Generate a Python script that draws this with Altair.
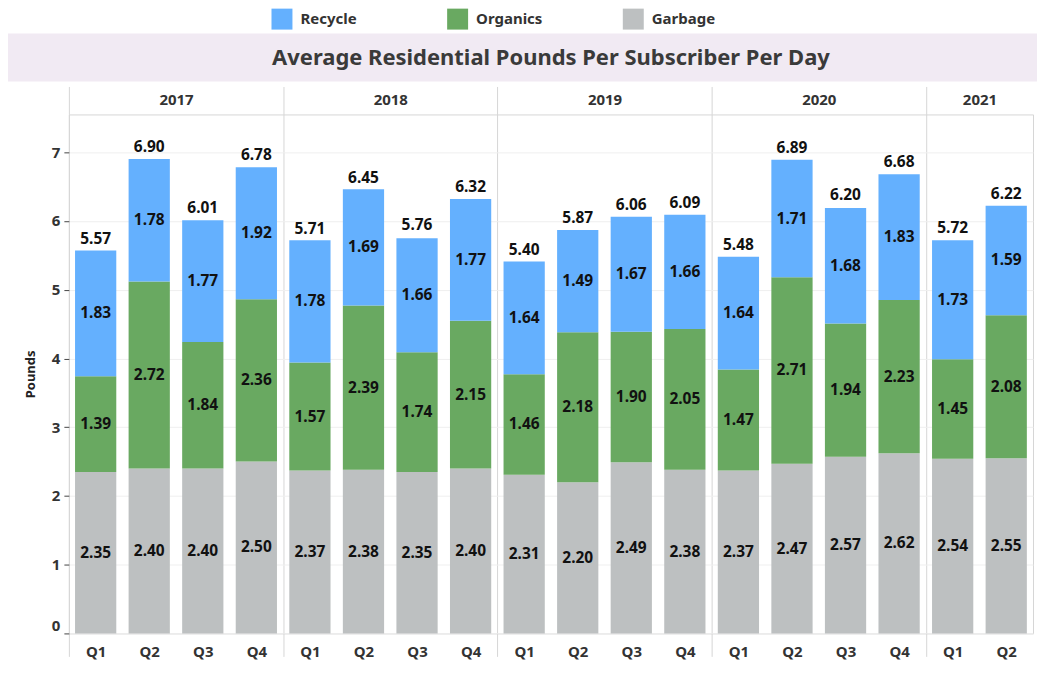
import altair as alt
import pandas as pd

years = ["2017"] * 4 + ["2018"] * 4 + ["2019"] * 4 + ["2020"] * 4 + ["2021"] * 2
quarters = ["Q1", "Q2", "Q3", "Q4"] * 4 + ["Q1", "Q2"]
garbage = [2.35, 2.40, 2.40, 2.50, 2.37, 2.38, 2.35, 2.40, 2.31, 2.20, 2.49, 2.38,
           2.37, 2.47, 2.57, 2.62, 2.54, 2.55]
organics = [1.39, 2.72, 1.84, 2.36, 1.57, 2.39, 1.74, 2.15, 1.46, 2.18, 1.90, 2.05,
            1.47, 2.71, 1.94, 2.23, 1.45, 2.08]
recycle = [1.83, 1.78, 1.77, 1.92, 1.78, 1.69, 1.66, 1.77, 1.64, 1.49, 1.67, 1.66,
           1.64, 1.71, 1.68, 1.83, 1.73, 1.59]
totals = [5.57, 6.90, 6.01, 6.78, 5.71, 6.45, 5.76, 6.32, 5.40, 5.87, 6.06, 6.09,
          5.48, 6.89, 6.20, 6.68, 5.72, 6.22]

materials = ["Recycle", "Organics", "Garbage"]
colors = ["#64B0FE", "#69A961", "#BDC0C1"]
title_text = "Average Residential Pounds Per Subscriber Per Day"

yq_order = [f"{y} {q}" for y, q in zip(years, quarters)]
rows = []
for i in range(len(years)):
    for mat, vals, order in (("Garbage", garbage, 1), ("Organics", organics, 2), ("Recycle", recycle, 3)):
        rows.append({"YQ": yq_order[i], "Year": years[i], "Quarter": quarters[i],
                     "Material": mat, "Pounds": vals[i], "Order": order, "Total": totals[i]})
df = pd.DataFrame(rows)

FONT = "Noto Sans"
W = 966
H = 520
P_IN = 0.23
STEP = W / len(yq_order)
GAP = P_IN * STEP
SEP = "#d6d6d6"

# year label sits between Q2 and Q3 (or between Q1 and Q2 for a half-year)
last_year = years[-1]
last_count = years.count(last_year)
last_anchor = f"{last_year} Q{last_count // 2}"
year_label_expr = (
    "(split(datum.value, ' ')[1] == 'Q2' && split(datum.value, ' ')[0] != '" + last_year +
    "') || datum.value == '" + last_anchor + "' ? split(datum.value, ' ')[0] : ''"
)
is_first_q = "split(datum.value, ' ')[1] == 'Q1'"

x_scale = alt.Scale(paddingInner=P_IN, paddingOuter=P_IN / 2)

x_bottom = alt.X("YQ:N", title=None, sort=yq_order, scale=x_scale,
                 axis=alt.Axis(orient="bottom", labelAngle=0, labelFontSize=15,
                               labelFontWeight="bold", labelColor="#333333", labelFont=FONT,
                               labelExpr="split(datum.value, ' ')[1]",
                               domain=False, ticks=True, tickSize=23, tickColor=SEP,
                               tickOpacity={"condition": {"test": is_first_q, "value": 1}, "value": 0},
                               bandPosition=0, tickOffset=-GAP / 2, labelOffset=GAP / 2,
                               labelPadding=-12))
x_top = alt.X("YQ:N", title=None, sort=yq_order, scale=x_scale,
              axis=alt.Axis(orient="top", labelAngle=0, labelFontSize=15,
                            labelFontWeight="bold", labelColor="#333333", labelFont=FONT,
                            labelExpr=year_label_expr,
                            domain=False, ticks=True, tickSize=28, tickColor=SEP,
                            tickOpacity={"condition": {"test": is_first_q, "value": 1}, "value": 0},
                            grid=True, gridColor=SEP,
                            gridOpacity={"condition": {"test": is_first_q, "value": 1}, "value": 0},
                            bandPosition=0, tickOffset=-GAP / 2,
                            labelOffset=STEP / 2 + GAP / 2, labelPadding=-21))
x_plain = alt.X("YQ:N", sort=yq_order, scale=x_scale, axis=None)

y_scale = alt.Scale(domain=[0, 7.55], nice=False)

bars = alt.Chart().mark_bar().encode(
    x=x_bottom,
    y=alt.Y("y1:Q", scale=y_scale, title="Pounds",
            axis=alt.Axis(values=[0, 1, 2, 3, 4, 5, 6, 7], format="d", labelFontSize=15,
                          labelFontWeight="bold", labelColor="#333333", labelFont=FONT,
                          titleFont=FONT, titleFontSize=13, titleFontWeight="bold",
                          titleColor="#222222", titlePadding=14, tickSize=5,
                          tickColor="#444444", domain=False, gridColor="#efefef",
                          labelFlush=True, labelPadding=4)),
    y2="y0:Q",
    color=alt.Color("Material:N", scale=alt.Scale(domain=materials, range=colors),
                    legend=alt.Legend(title=None, orient="none", direction="horizontal",
                                      legendX=203, legendY=-25, symbolType="square",
                                      symbolSize=441, symbolStrokeWidth=0,
                                      labelFontSize=15, labelFontWeight="bold",
                                      labelFont=FONT, labelColor="#333333",
                                      gridAlign="all", columnPadding=80,
                                      symbolOffset=0, labelOffset=8, padding=0)),
)

seg = alt.Chart().mark_text(fontSize=15.5, fontWeight="bold", font=FONT,
                            color="#111111").encode(
    x=x_top,
    y=alt.Y("mid:Q", scale=y_scale),
    text=alt.Text("Pounds:Q", format=".2f"),
)

tot = alt.Chart().transform_filter(alt.datum.Material == "Recycle").mark_text(
    fontSize=15.5, fontWeight="bold", font=FONT, color="#111111",
    baseline="bottom", dy=-4).encode(
    x=x_plain,
    y=alt.Y("Total:Q", scale=y_scale),
    text=alt.Text("Total:Q", format=".2f"),
)

main = alt.layer(bars, seg, tot, data=df).transform_stack(
    stack="Pounds", groupby=["YQ"], as_=["y0", "y1"],
    sort=[alt.SortField("Order", order="ascending")]
).transform_calculate(
    mid="(datum.y0 + datum.y1) / 2"
).resolve_axis(x="independent").properties(width=W, height=H)

# decorative title banner (not data)
banner = alt.Chart(pd.DataFrame({"t": [title_text]})).mark_rect(color="#F1EAF3").encode(
    x=alt.value(-61), x2=alt.value(W + 4), y=alt.value(0), y2=alt.value(48)
)
banner_text = alt.Chart(pd.DataFrame({"t": [title_text]})).mark_text(
    fontSize=22, fontWeight="bold", font=FONT, color="#3a3a3a").encode(
    text="t:N"
)
title_chart = alt.layer(banner, banner_text).properties(
    width=W, height=48, view=alt.ViewBackground(stroke=None))

chart = alt.vconcat(title_chart, main, spacing=4).properties(
    padding={"left": 0, "top": 0, "right": 0, "bottom": 0}
).configure_view(stroke=SEP)

chart.save("out.html", embed_options={"renderer": "svg", "actions": False})
